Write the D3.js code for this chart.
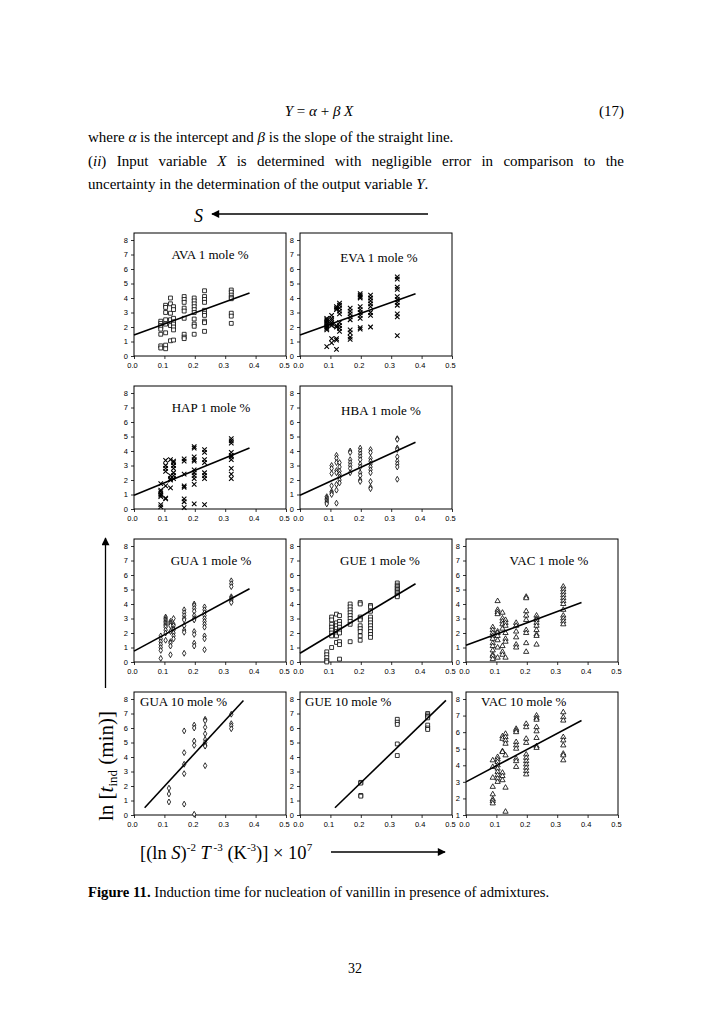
<!DOCTYPE html>
<html>
<head>
<meta charset="utf-8">
<script src="https://cdn.jsdelivr.net/npm/d3@7"></script>
<style>
  body { margin: 0; background: #fff; }
  svg text { font-family: "Liberation Serif", "Times New Roman", serif; fill: #000; }
  svg .tick text { font-family: "Liberation Sans", Arial, sans-serif; }
</style>
</head>
<body>
<svg id="page" width="728" height="1030"></svg>
<script>
const xCols1 = [0.088, 0.104, 0.12, 0.13, 0.165, 0.198, 0.232, 0.32];
const xColsGua10 = [0.115, 0.165, 0.198, 0.234, 0.32];
const xColsGue10 = [0.2, 0.32, 0.42];

const xTicks = [0, 0.1, 0.2, 0.3, 0.4, 0.5];
const yTicks = [0, 1, 2, 3, 4, 5, 6, 7, 8];
const yTicksVac10 = [1, 2, 3, 4, 5, 6, 7, 8];

// ln(t_ind) values per column
const avaY = [
  [2.4, 2.25, 2.1, 2.0, 1.85, 1.5, 0.7, 0.55],
  [3.5, 3.35, 3.0, 2.5, 2.2, 1.6, 0.75, 0.5],
  [4.0, 3.6, 2.95, 2.5, 2.1, 1.05],
  [3.4, 3.2, 2.6, 2.35, 2.2, 2.0, 1.8, 1.1],
  [4.1, 3.9, 3.7, 3.3, 3.1, 2.6, 1.5, 1.3, 1.2],
  [4.0, 3.8, 3.6, 3.4, 3.2, 3.0, 2.55, 2.2, 2.05, 1.5],
  [4.5, 4.1, 3.9, 3.7, 3.15, 2.95, 2.8, 2.4, 2.3, 1.7],
  [4.55, 4.4, 4.2, 4.05, 3.95, 2.95, 2.75, 2.25]
];
const evaY = [
  [2.6, 2.5, 2.4, 2.3, 2.2, 2.1, 2.0, 1.9, 1.8, 0.65],
  [2.8, 2.6, 2.45, 2.3, 2.2, 2.1, 1.2, 0.9],
  [3.4, 3.3, 3.2, 2.1, 2.0, 1.2, 1.1, 0.45],
  [3.65, 3.5, 3.3, 3.1, 2.9, 2.3, 2.1, 1.9, 1.7],
  [3.3, 3.1, 2.9, 2.7, 2.5, 1.8, 1.6, 1.3, 1.15],
  [4.3, 4.2, 4.1, 4.0, 3.4, 3.2, 3.0, 2.8, 2.6, 1.95, 1.85],
  [4.2, 4.0, 3.8, 3.6, 3.4, 3.0, 2.8, 2.0],
  [5.45, 5.3, 4.75, 4.6, 4.1, 3.9, 3.7, 3.5, 2.9, 2.7, 1.4]
];
const hapY = [
  [1.75, 1.3, 1.2, 1.05, 0.95, 0.85, 0.3, 0.15],
  [3.35, 3.0, 2.8, 2.6, 1.6, 0.75, 0.7],
  [3.4, 2.3, 2.1, 2.0, 1.45],
  [3.3, 3.2, 3.0, 2.8, 2.5, 2.3, 2.1],
  [3.45, 3.3, 2.4, 1.6, 1.5, 0.7, 0.5, 0.1],
  [4.3, 4.2, 3.6, 3.4, 3.3, 2.7, 2.5, 2.3, 2.1, 1.7, 0.35],
  [4.1, 3.9, 3.4, 3.2, 2.5, 2.3, 2.1, 0.3],
  [4.85, 4.7, 4.55, 3.9, 3.7, 3.6, 3.4, 2.8, 2.4, 2.1]
];
const hbaY = [
  [0.85, 0.75, 0.65, 0.55, 0.45, 0.35],
  [3.0, 2.8, 2.45, 1.6, 1.2, 1.1, 1.0],
  [3.7, 3.5, 3.2, 2.65, 2.5, 1.7, 1.3, 0.4],
  [3.2, 2.9, 2.6, 2.4, 2.2, 2.0, 1.8],
  [4.0, 3.9, 3.4, 3.2, 3.0, 2.8, 2.5],
  [4.2, 4.0, 3.8, 3.6, 3.4, 3.1, 2.9, 2.5, 2.3, 2.0, 1.9],
  [4.1, 3.9, 3.5, 3.3, 3.1, 2.9, 2.7, 2.5, 1.9, 1.5, 1.4],
  [4.85, 4.8, 4.2, 4.1, 3.6, 3.3, 3.1, 2.9, 2.05]
];
const gua1Y = [
  [1.8, 1.6, 1.4, 1.2, 1.0, 0.8, 0.25],
  [3.1, 3.0, 2.9, 2.8, 2.7, 2.6, 2.5, 2.4, 2.2, 2.0, 1.5],
  [2.8, 2.7, 2.6, 2.5, 2.1, 1.4, 1.3, 1.1, 0.5],
  [3.0, 2.6, 2.5, 2.3, 2.2, 2.0, 1.8, 1.6],
  [3.6, 3.4, 3.2, 3.0, 2.9, 2.5, 2.2, 2.05, 0.6],
  [4.0, 3.9, 3.7, 3.5, 3.2, 3.0, 2.9, 2.1, 1.9, 1.3, 1.1],
  [3.8, 3.6, 3.4, 3.2, 3.0, 2.8, 2.6, 2.4, 1.8, 1.6, 0.85],
  [5.6, 5.4, 5.2, 4.5, 4.4, 4.3, 4.2, 4.1]
];
const gue1Y = [
  [0.7, 0.5, 0.3, 0.1, 0.0],
  [3.1, 2.9, 2.6, 2.4, 2.2, 2.0, 1.8, 1.0],
  [3.3, 2.7, 2.5, 2.3, 2.1, 1.9, 1.8, 1.35],
  [3.2, 2.8, 2.6, 2.4, 2.2, 2.0, 1.4, 1.2, 0.2],
  [4.0, 3.8, 3.6, 3.4, 3.2, 3.0, 2.8, 2.6, 1.4],
  [4.1, 4.0, 3.1, 3.0, 2.9, 2.5, 2.3, 2.1, 1.8, 1.5],
  [3.9, 3.8, 3.5, 3.1, 2.9, 2.7, 2.5, 2.3, 2.1, 1.9, 1.7],
  [5.45, 5.3, 5.2, 5.1, 5.0, 4.9, 4.8, 4.7, 4.6, 4.5]
];
const vac1Y = [
  [2.4, 2.2, 2.0, 1.8, 1.6, 1.3, 1.1, 0.8, 0.5, 0.4, 0.2],
  [4.2, 3.6, 3.45, 3.3, 2.1, 2.0, 1.8, 1.5, 1.0, 0.3],
  [3.4, 3.0, 2.8, 2.6, 2.3, 1.1, 0.7, 0.5],
  [2.9, 2.7, 2.5, 2.0, 1.6, 1.4, 0.3],
  [2.7, 2.5, 2.1, 1.7, 1.2, 1.0],
  [4.5, 4.4, 3.5, 3.2, 2.9, 2.2, 2.0, 1.3, 0.7],
  [3.2, 3.0, 2.9, 2.7, 2.5, 2.2, 1.9, 1.8, 1.2],
  [5.2, 5.0, 4.8, 4.6, 4.4, 4.2, 4.0, 3.6, 3.2, 3.0, 2.8, 2.6]
];
const gua10Y = [
  [1.85, 1.45, 0.9],
  [5.8, 4.3, 3.5, 2.85, 0.75],
  [6.2, 6.0, 5.1, 4.8, 0.05],
  [6.6, 6.5, 6.05, 5.6, 5.2, 5.0, 4.8, 4.75, 3.4],
  [6.95, 6.3, 6.15, 5.95]
];
const gue10Y = [
  [2.25, 2.2, 1.35, 1.3],
  [6.6, 6.4, 6.25, 4.9, 4.1],
  [7.0, 6.9, 6.8, 6.7, 6.2, 6.0, 5.9]
];
const vac10Y = [
  [4.3, 3.9, 3.25, 2.7, 2.25, 1.95, 1.85, 1.7],
  [4.5, 4.35, 4.2, 4.0, 3.8, 3.6, 3.4, 3.2, 3.0],
  [5.75, 5.6, 4.85, 4.8, 3.55, 3.35, 3.1],
  [5.9, 5.7, 5.5, 5.3, 4.6, 2.65, 1.2],
  [6.2, 6.1, 6.0, 5.4, 5.2, 5.0, 4.4, 4.25, 3.9],
  [6.5, 6.3, 5.6, 5.35, 4.65, 4.45, 4.25, 4.05, 3.85, 3.65, 3.45],
  [7.0, 6.85, 6.75, 6.3, 6.05, 5.65, 5.15, 5.05],
  [7.2, 6.9, 6.7, 5.7, 5.5, 5.2, 4.7, 4.6, 4.3]
];

// fitted straight lines, endpoints [x, y]
const avaFit = [[0, 1.45], [0.38, 4.35]];
const evaFit = [[0, 1.45], [0.38, 4.3]];
const hapFit = [[0, 0.95], [0.38, 4.2]];
const hbaFit = [[0, 0.95], [0.38, 4.6]];
const gua1Fit = [[0, 0.75], [0.38, 5.05]];
const gue1Fit = [[0, 0.6], [0.38, 5.4]];
const vac1Fit = [[0, 1.15], [0.38, 4.1]];
const gua10Fit = [[0.035, 0.5], [0.36, 7.9]];
const gue10Fit = [[0.115, 0.5], [0.48, 7.9]];
const vac10Fit = [[0, 3.0], [0.38, 6.7]];

const colX = [134, 300, 466];
const rowY = [356, 509, 662, 815];
const pw = 152, ph = 116;

const panels = [
  {title: "AVA 1 mole %", col: 0, row: 0, xs: xCols1, ys: avaY, fit: avaFit, mark: "square", tx: 76, ty: -97},
  {title: "EVA 1 mole %", col: 1, row: 0, xs: xCols1, ys: evaY, fit: evaFit, mark: "times", tx: 79, ty: -94},
  {title: "HAP 1 mole %", col: 0, row: 1, xs: xCols1, ys: hapY, fit: hapFit, mark: "times", tx: 77, ty: -97},
  {title: "HBA 1 mole %", col: 1, row: 1, xs: xCols1, ys: hbaY, fit: hbaFit, mark: "diamond", tx: 81, ty: -94},
  {title: "GUA 1 mole %", col: 0, row: 2, xs: xCols1, ys: gua1Y, fit: gua1Fit, mark: "diamond", tx: 77, ty: -97},
  {title: "GUE 1 mole %", col: 1, row: 2, xs: xCols1, ys: gue1Y, fit: gue1Fit, mark: "square", tx: 80, ty: -97},
  {title: "VAC 1 mole %", col: 2, row: 2, xs: xCols1, ys: vac1Y, fit: vac1Fit, mark: "triangle", tx: 83, ty: -97},
  {title: "GUA 10 mole %", col: 0, row: 3, xs: xColsGua10, ys: gua10Y, fit: gua10Fit, mark: "diamond", tx: 6, ty: -109, left: true},
  {title: "GUE 10 mole %", col: 1, row: 3, xs: xColsGue10, ys: gue10Y, fit: gue10Fit, mark: "square", tx: 5, ty: -109, left: true},
  {title: "VAC 10 mole %", col: 2, row: 3, xs: xCols1, ys: vac10Y, fit: vac10Fit, mark: "triangle", tx: 15, ty: -109, left: true, yMin: 1}
];

const symbols = {
  square: d3.symbol(d3.symbolSquare, 15),
  times: d3.symbol(d3.symbolTimes || d3.symbolX, 15),
  diamond: d3.symbol(d3.symbolDiamond, 10),
  triangle: d3.symbol(d3.symbolTriangle, 12)
};

const svg = d3.select("#page");

const defs = svg.append("defs");
defs.append("marker")
    .attr("id", "head")
    .attr("viewBox", "0 0 10 10")
    .attr("refX", 9).attr("refY", 5)
    .attr("markerUnits", "userSpaceOnUse")
    .attr("markerWidth", 11).attr("markerHeight", 8)
    .attr("orient", "auto")
  .append("path")
    .attr("d", "M0,0L10,5L0,10Z")
    .attr("fill", "#000");

panels.forEach(p => {
  const x0 = colX[p.col], y0 = rowY[p.row];
  const yMin = p.yMin || 0;
  const x = d3.scaleLinear().domain([0, 0.5]).range([x0, x0 + pw]);
  const y = d3.scaleLinear().domain([yMin, 8]).range([y0, y0 - ph]);
  const g = svg.append("g");

  g.append("g")
      .attr("transform", "translate(" + x0 + ",0)")
      .call(d3.axisLeft(y).tickValues(yMin ? yTicksVac10 : yTicks).tickFormat(d3.format("d")).tickSize(3).tickPadding(3))
      .call(a => a.select(".domain").remove());

  g.append("g")
      .attr("transform", "translate(0," + y0 + ")")
      .call(d3.axisBottom(x).tickValues(xTicks).tickFormat(d3.format(".1f")).tickSize(3).tickPadding(4))
      .call(a => a.select(".domain").remove())
      .call(a => a.selectAll(".tick text").attr("dx", -2));

  g.selectAll(".tick text")
      .attr("font-size", 7.5);
  g.selectAll(".tick line").attr("stroke-width", 0.8);

  g.append("rect")
      .attr("x", x0).attr("y", y0 - ph - 7)
      .attr("width", pw).attr("height", ph + 7)
      .attr("fill", "none").attr("stroke", "#000").attr("stroke-width", 1);

  const pts = [];
  p.xs.forEach((xv, i) => p.ys[i].forEach(yv => pts.push([xv, yv])));

  g.selectAll("path.pt").data(pts).join("path")
      .attr("class", "pt")
      .attr("transform", d => "translate(" + x(d[0]) + "," + y(d[1]) + ")")
      .attr("d", symbols[p.mark])
      .attr("fill", p.mark == "times" ? "none" : "#fff")
      .attr("stroke", "#000")
      .attr("stroke-width", p.mark == "times" ? 1.1 : 0.8);

  g.append("line")
      .attr("x1", x(p.fit[0][0])).attr("y1", y(p.fit[0][1]))
      .attr("x2", x(p.fit[1][0])).attr("y2", y(p.fit[1][1]))
      .attr("stroke", "#000").attr("stroke-width", 1.6);

  g.append("text")
      .attr("x", x0 + p.tx).attr("y", y0 + p.ty)
      .attr("text-anchor", p.left ? "start" : "middle")
      .attr("font-size", 13)
      .text(p.title);
});

// page text above the figure
const body = 15;
const eq = svg.append("text").attr("x", 319).attr("y", 116).attr("text-anchor", "middle").attr("font-size", body);
eq.append("tspan").attr("font-style", "italic").text("Y");
eq.append("tspan").text(" = ");
eq.append("tspan").attr("font-style", "italic").text("α");
eq.append("tspan").text(" + ");
eq.append("tspan").attr("font-style", "italic").text("β");
eq.append("tspan").attr("font-style", "italic").text(" X");
svg.append("text").attr("x", 624).attr("y", 116).attr("text-anchor", "end").attr("font-size", body).text("(17)");

const l1 = svg.append("text").attr("x", 88).attr("y", 142).attr("font-size", body);
l1.append("tspan").text("where ");
l1.append("tspan").attr("font-style", "italic").text("α");
l1.append("tspan").text(" is the intercept and ");
l1.append("tspan").attr("font-style", "italic").text("β");
l1.append("tspan").text(" is the slope of the straight line.");

const l2 = svg.append("text").attr("x", 88).attr("y", 166).attr("font-size", body);
l2.append("tspan").text("(");
l2.append("tspan").attr("font-style", "italic").text("ii");
l2.append("tspan").text(") Input variable ");
l2.append("tspan").attr("font-style", "italic").text("X");
l2.append("tspan").text(" is determined with negligible error in comparison to the");
// justify to the right margin
const natural = l2.node().getComputedTextLength();
l2.style("word-spacing", ((624 - 88 - natural) / 12) + "px");

const l3 = svg.append("text").attr("x", 88).attr("y", 189).attr("font-size", body);
l3.append("tspan").text("uncertainty in the determination of the output variable ");
l3.append("tspan").attr("font-style", "italic").text("Y");
l3.append("tspan").text(".");

// S arrow
svg.append("text").attr("x", 194).attr("y", 222).attr("font-size", 18).attr("font-style", "italic").text("S");
svg.append("line").attr("x1", 428).attr("y1", 214).attr("x2", 212).attr("y2", 214)
    .attr("stroke", "#000").attr("stroke-width", 1.3).attr("marker-end", "url(#head)");

// vertical arrow and y label
svg.append("line").attr("x1", 105.5).attr("y1", 688).attr("x2", 105.5).attr("y2", 538)
    .attr("stroke", "#000").attr("stroke-width", 1.3).attr("marker-end", "url(#head)");
const yl = svg.append("text")
    .attr("transform", "translate(113,766) rotate(-90)")
    .attr("text-anchor", "middle")
    .attr("font-size", 21);
yl.append("tspan").text("ln [");
yl.append("tspan").attr("font-style", "italic").text("t");
yl.append("tspan").attr("font-size", 13).attr("dy", 4).text("ind");
yl.append("tspan").attr("dy", -4).text(" (min)]");

// x label and arrow
const xl = svg.append("text").attr("x", 140).attr("y", 859).attr("font-size", 18.5);
xl.append("tspan").text("[(ln ");
xl.append("tspan").attr("font-style", "italic").text("S");
xl.append("tspan").text(")");
xl.append("tspan").attr("font-size", 11).attr("dy", -8).text("-2");
xl.append("tspan").attr("dy", 8).text(" ");
xl.append("tspan").attr("font-style", "italic").text("T");
xl.append("tspan").attr("font-size", 11).attr("dy", -8).text(" -3");
xl.append("tspan").attr("dy", 8).text(" (K");
xl.append("tspan").attr("font-size", 11).attr("dy", -8).text("-3");
xl.append("tspan").attr("dy", 8).text(")] × 10");
xl.append("tspan").attr("font-size", 11).attr("dy", -8).text("7");
svg.append("line").attr("x1", 331).attr("y1", 852).attr("x2", 445).attr("y2", 852)
    .attr("stroke", "#000").attr("stroke-width", 1.6).attr("marker-end", "url(#head)");

// caption and page number
const cap = svg.append("text").attr("x", 88).attr("y", 897).attr("font-size", 14.7);
cap.append("tspan").attr("font-weight", "bold").text("Figure 11.");
cap.append("tspan").text("  Induction time for nucleation of vanillin in presence of admixtures.");
svg.append("text").attr("x", 355).attr("y", 973).attr("text-anchor", "middle").attr("font-size", 14).text("32");
</script>
</body>
</html>
